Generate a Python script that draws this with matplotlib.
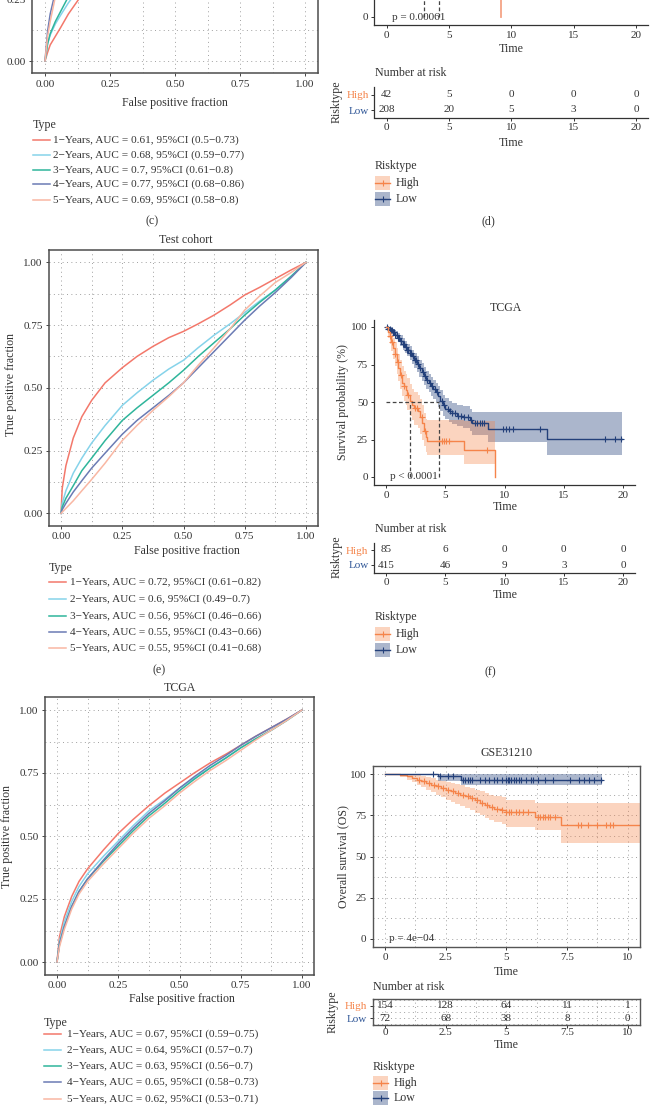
import numpy as np
import matplotlib
matplotlib.use('Agg')
import matplotlib.pyplot as plt
from matplotlib.lines import Line2D
from matplotlib.patches import Rectangle
from matplotlib.ticker import MultipleLocator, FormatStrFormatter

plt.rcParams['font.family'] = ['Liberation Serif', 'DejaVu Serif']
plt.rcParams['font.size'] = 8
plt.rcParams['axes.unicode_minus'] = True

FS_TICK = 8.0
FS_LAB = 8.6
FS_LEG = 8.1

# ---------------- data ----------------
roc_colors = ['#F3786B', '#86D3EA', '#2FB59B', '#6B7BB4', '#F9B7A3']

# (c) training cohort ROC (only bottom part visible)
c_fpr = [0, 0.01, 0.02, 0.04, 0.06, 0.09, 0.13, 0.2, 0.3, 0.45, 0.6, 0.8, 1.0]
c_tpr = [
    [0, 0.035, 0.065, 0.10, 0.135, 0.19, 0.25, 0.34, 0.45, 0.58, 0.70, 0.85, 1],
    [0, 0.07, 0.105, 0.15, 0.185, 0.235, 0.29, 0.38, 0.50, 0.64, 0.76, 0.89, 1],
    [0, 0.07, 0.11, 0.16, 0.20, 0.26, 0.32, 0.41, 0.52, 0.66, 0.78, 0.90, 1],
    [0, 0.12, 0.19, 0.28, 0.34, 0.41, 0.48, 0.57, 0.67, 0.78, 0.86, 0.94, 1],
    [0, 0.10, 0.16, 0.26, 0.30, 0.34, 0.38, 0.45, 0.54, 0.66, 0.77, 0.90, 1],
]
c_labels = ['1\u2212Years, AUC = 0.61, 95%CI (0.5\u22120.73)',
            '2\u2212Years, AUC = 0.68, 95%CI (0.59\u22120.77)',
            '3\u2212Years, AUC = 0.7, 95%CI (0.61\u22120.8)',
            '4\u2212Years, AUC = 0.77, 95%CI (0.68\u22120.86)',
            '5\u2212Years, AUC = 0.69, 95%CI (0.58\u22120.8)']

# (e) test cohort ROC
e_fpr = [0, 0.005, 0.02, 0.05, 0.085, 0.125, 0.18, 0.25, 0.31, 0.375, 0.44, 0.5,
         0.56, 0.625, 0.69, 0.75, 0.81, 0.875, 0.94, 1]
e_tpr = [
    [0, 0.10, 0.19, 0.30, 0.385, 0.45, 0.52, 0.58, 0.625, 0.665, 0.70, 0.725,
     0.755, 0.79, 0.83, 0.87, 0.90, 0.935, 0.97, 1],
    [0, 0.04, 0.09, 0.16, 0.22, 0.28, 0.35, 0.43, 0.48, 0.53, 0.575, 0.61,
     0.66, 0.71, 0.755, 0.80, 0.845, 0.89, 0.945, 1],
    [0, 0.025, 0.06, 0.11, 0.17, 0.22, 0.29, 0.37, 0.42, 0.47, 0.52, 0.57,
     0.625, 0.68, 0.735, 0.79, 0.84, 0.89, 0.945, 1],
    [0, 0.015, 0.04, 0.085, 0.13, 0.18, 0.24, 0.315, 0.37, 0.42, 0.47, 0.52,
     0.58, 0.645, 0.71, 0.77, 0.825, 0.88, 0.94, 1],
    [0, 0.005, 0.02, 0.05, 0.09, 0.135, 0.20, 0.29, 0.35, 0.41, 0.465, 0.52,
     0.59, 0.66, 0.735, 0.81, 0.865, 0.92, 0.96, 1],
]
e_labels = ['1\u2212Years, AUC = 0.72, 95%CI (0.61\u22120.82)',
            '2\u2212Years, AUC = 0.6, 95%CI (0.49\u22120.7)',
            '3\u2212Years, AUC = 0.56, 95%CI (0.46\u22120.66)',
            '4\u2212Years, AUC = 0.55, 95%CI (0.43\u22120.66)',
            '5\u2212Years, AUC = 0.55, 95%CI (0.41\u22120.68)']

# (g) TCGA ROC
g_fpr = [0, 0.01, 0.03, 0.06, 0.09, 0.125, 0.19, 0.25, 0.31, 0.375, 0.44, 0.5,
         0.56, 0.625, 0.69, 0.75, 0.81, 0.875, 0.94, 1]
g_tpr = [
    [0, 0.10, 0.18, 0.26, 0.32, 0.37, 0.445, 0.51, 0.565, 0.62, 0.67, 0.71,
     0.75, 0.79, 0.825, 0.86, 0.895, 0.93, 0.965, 1],
    [0, 0.08, 0.16, 0.24, 0.30, 0.35, 0.42, 0.48, 0.54, 0.60, 0.645, 0.69,
     0.73, 0.77, 0.81, 0.85, 0.885, 0.92, 0.96, 1],
    [0, 0.07, 0.14, 0.22, 0.28, 0.33, 0.40, 0.46, 0.52, 0.58, 0.63, 0.68,
     0.725, 0.77, 0.81, 0.85, 0.885, 0.92, 0.96, 1],
    [0, 0.07, 0.14, 0.22, 0.28, 0.33, 0.405, 0.47, 0.53, 0.59, 0.64, 0.69,
     0.735, 0.78, 0.82, 0.86, 0.895, 0.93, 0.965, 1],
    [0, 0.06, 0.13, 0.21, 0.27, 0.32, 0.39, 0.45, 0.51, 0.57, 0.62, 0.67,
     0.715, 0.76, 0.80, 0.84, 0.88, 0.92, 0.96, 1],
]
g_labels = ['1\u2212Years, AUC = 0.67, 95%CI (0.59\u22120.75)',
            '2\u2212Years, AUC = 0.64, 95%CI (0.57\u22120.7)',
            '3\u2212Years, AUC = 0.63, 95%CI (0.56\u22120.7)',
            '4\u2212Years, AUC = 0.65, 95%CI (0.58\u22120.73)',
            '5\u2212Years, AUC = 0.62, 95%CI (0.53\u22120.71)']

# (d) KM, only the bottom strip is visible
d_high_t = [0, 1, 2, 3, 4, 6, 9.2]
d_high_s = [100, 80, 62, 50, 35, 22, 0]
d_low_t = [0, 2, 4, 6, 10, 15, 20]
d_low_s = [100, 85, 60, 45, 38, 30, 30]
d_median = [3.0, 4.2]
d_risk_high = [42, 5, 0, 0, 0]
d_risk_low = [208, 20, 5, 3, 0]

# (f) TCGA KM
f_high_t = [0, 0.15, 0.3, 0.45, 0.6, 0.75, 0.9, 1.05, 1.2, 1.35, 1.5, 1.65, 1.8, 2.0,
            2.2, 2.4, 2.7, 2.9, 3.05, 3.2, 3.35, 3.5, 6.6, 9.2]
f_high_s = [100, 97, 94, 90, 86, 82, 77, 73, 68, 63, 61, 58, 55, 51,
            48, 46, 44, 40, 36, 31, 27, 24, 17.8, 0]
f_high_lo = [100, 93, 89, 84, 79, 74, 69, 64, 59, 54, 51, 48, 45, 41,
             38, 35, 33, 29, 25, 21, 17, 15, 8.5, 0]
f_high_hi = [100, 100, 99, 96, 93, 90, 86, 82, 78, 74, 71, 69, 66, 62,
             59, 57, 55, 52, 48, 43, 39, 38, 37.5, 0]
f_high_cens = [0.35, 0.55, 0.8, 1.0, 1.3, 1.55, 1.85, 2.45, 2.6, 3.0, 3.3,
               4.5, 4.7, 4.9, 5.1, 5.3, 8.5]
f_low_t = [0, 0.2, 0.4, 0.6, 0.8, 1.0, 1.2, 1.4, 1.6, 1.8, 2.0, 2.2, 2.4, 2.6, 2.8,
           3.0, 3.2, 3.4, 3.6, 3.8, 4.0, 4.2, 4.4, 4.6, 4.8, 5.0, 5.3, 5.6, 6.0,
           6.5, 7.1, 7.3, 8.6, 13.55, 19.9]
f_low_s = [100, 99, 98, 96.5, 95, 93, 91, 89, 87, 85, 83, 80.5, 78, 75.5, 72.5,
           70, 67.5, 65, 63, 61, 59, 57, 54, 51, 48, 45.5, 44, 42.5, 41,
           40, 38, 36, 32, 25.3, 25.3]
f_low_lo = [100, 98, 96, 94, 92, 90, 87.5, 85, 83, 80.5, 78, 75.5, 72.5, 70, 67,
            64, 61.5, 59, 56.5, 54, 52, 50, 47, 44, 41, 38.5, 37, 35.5, 34,
            32.5, 30.5, 28, 23.5, 14.7, 14.7]
f_low_hi = [100, 100, 99.5, 98.5, 97.5, 96, 94.5, 92.5, 91, 89, 87.5, 85, 83, 80.5, 78,
            76, 73.5, 71, 69, 67, 65, 63, 60.5, 58, 55, 52.5, 51, 49.5, 48,
            47.5, 45.5, 43.5, 43.5, 43.5, 43.5]
f_low_cens = [0.1, 0.2, 0.3, 0.4, 0.5, 0.6, 0.7, 0.8, 0.9, 1.0, 1.1, 1.25, 1.4, 1.5,
              1.65, 1.8, 1.9, 2.05, 2.15, 2.3, 2.45, 2.55, 2.7, 2.85, 3.1, 3.3, 3.5,
              3.7, 3.9, 4.1, 4.3, 4.7, 4.9, 5.2, 5.4, 5.6, 5.8, 6.1, 6.3, 6.6, 6.9,
              7.2, 7.5, 7.7, 7.9, 8.1, 8.3, 9.9, 10.1, 10.4, 10.7, 13.0, 18.5, 19.3, 19.8]
f_median = [2.05, 4.5]
f_risk_high = [85, 6, 0, 0, 0]
f_risk_low = [415, 46, 9, 3, 0]

# (h) GSE31210 KM
h_high_t = [0, 0.6, 0.9, 1.1, 1.3, 1.5, 1.7, 1.9, 2.1, 2.3, 2.5, 2.7, 2.9, 3.1, 3.3,
            3.5, 3.7, 3.9, 4.1, 4.3, 4.5, 4.8, 5.0, 6.17, 7.24, 10.6]
h_high_s = [100, 99.3, 98.5, 97.5, 96.5, 95.5, 94.5, 93.5, 92.5, 91.5, 90.5, 89.5, 88.5,
            87.5, 86.5, 85.5, 84, 82.5, 81, 80, 79, 78, 77.2, 74.1, 69.1, 69.1]
h_high_lo = [100, 98, 96.5, 95, 93.5, 92, 90.5, 89, 87.5, 86, 84.5, 83.3, 82, 80.8,
             79.5, 78.2, 76.5, 75, 73.5, 72.3, 71, 70, 68, 66, 58.4, 58.4]
h_high_hi = [100, 100, 100, 99.8, 99.3, 98.7, 98, 97.3, 96.6, 95.9, 95.2, 94.5, 93.8,
             93.1, 92.4, 91.7, 90.5, 89.5, 88.3, 87.5, 86.7, 85.8, 84.2, 82.6, 82.6, 82.6]
h_high_cens = [1.4, 1.6, 1.8, 2.0, 2.2, 2.4, 2.6, 2.8, 3.0, 3.2, 3.4, 3.6, 3.8, 4.0,
               4.2, 4.4, 4.6, 4.8, 5.0, 5.1, 5.2, 5.4, 5.5, 5.7, 5.9, 6.3, 6.4, 6.5,
               6.6, 6.7, 6.8, 7.0, 7.95, 8.07, 8.37, 8.71, 9.12, 9.26, 9.39]
h_low_t = [0, 2.2, 3.15, 8.93]
h_low_s = [100, 98.6, 96.6, 96.6]
h_low_lo = [100, 95.5, 93.2, 93.2]
h_low_hi = [100, 100, 99.8, 99.8]
h_low_cens = [1.96, 2.25, 2.6, 2.8, 3.2, 3.3, 3.4, 3.5, 3.6, 3.9, 4.1, 4.3, 4.5, 4.6,
              4.8, 5.0, 5.05, 5.1, 5.2, 5.3, 5.4, 5.5, 5.6, 5.8, 6.0, 6.1, 6.3, 6.6,
              6.9, 7.6, 8.0, 8.2, 8.4, 8.6, 8.9]
h_risk_high = [154, 128, 64, 11, 1]
h_risk_low = [72, 68, 38, 8, 0]

HIGH = '#F5844A'
HIGH_D = '#F4A486'
LOW = '#23407A'
TXT = '#333333'

# ---------------- helpers ----------------
W, H = 650, 1105
fig = plt.figure(figsize=(6.5, 11.05), dpi=100)


def px_axes(left, top, right, bottom):
    return fig.add_axes([left / W, 1 - bottom / H, (right - left) / W, (bottom - top) / H])


def ftext(x, y, s, **kw):
    kw.setdefault('color', TXT)
    kw.setdefault('va', 'center')
    fig.text(x / W, 1 - y / H, s, **kw)


def fline(x0, x1, y, **kw):
    fig.add_artist(Line2D([x0 / W, x1 / W], [1 - y / H, 1 - y / H],
                          transform=fig.transFigure, **kw))


def roc_panel(box, fpr, tprs, yticks=(0, 0.25, 0.5, 0.75, 1.0), title=None, title_xy=None):
    ax = px_axes(*box)
    for tpr, col in zip(tprs, roc_colors):
        ax.plot(fpr, tpr, color=col, lw=1.1)
    ax.set_xlim(-0.05, 1.05)
    ax.set_ylim(-0.05, 1.05)
    ax.xaxis.set_major_locator(MultipleLocator(0.25))
    ax.set_yticks(list(yticks))
    for axis in (ax.xaxis, ax.yaxis):
        axis.set_minor_locator(MultipleLocator(0.125))
        axis.set_major_formatter(FormatStrFormatter('%.2f'))
    ax.grid(which='both', ls=(0, (1, 3.5)), color='#A0A0A0', lw=0.7)
    ax.set_axisbelow(True)
    ax.tick_params(which='major', length=2.5, width=0.7, color='#444', labelsize=FS_TICK,
                   labelcolor=TXT, pad=2)
    ax.tick_params(which='minor', length=0)
    for sp in ax.spines.values():
        sp.set_color('#4D4D4D')
        sp.set_linewidth(1.1)
    if title:
        ftext(title_xy[0], title_xy[1], title, ha='center', fontsize=FS_LAB)
    return ax


def roc_legend(x_line, x_text, y_type, ys, labels):
    ftext(x_line, y_type, 'Type', ha='left', fontsize=FS_LAB)
    for y, lab, col in zip(ys, labels, roc_colors):
        fline(x_line, x_line + 17, y, color=col, lw=1.1)
        ftext(x_text, y, lab, ha='left', fontsize=FS_LEG)


def step_val(t, s, c):
    idx = np.searchsorted(t, c, side='right') - 1
    return np.asarray(s)[idx]


def km_curve(ax, t, s, lo, hi, col, cens, alpha):
    ax.fill_between(t, lo, hi, step='post', color=col, alpha=alpha, lw=0)
    ax.plot(t, s, drawstyle='steps-post', color=col, lw=1.0)
    if cens:
        ax.plot(cens, step_val(t, s, cens), ls='none', marker='+', ms=4.5,
                mew=0.8, color=col)


def km_style(ax, xlim, xticks, yticks, full_frame=False):
    ax.set_xlim(*xlim)
    ax.set_ylim(-5, 105)
    ax.set_xticks(xticks)
    ax.set_yticks(yticks)
    ax.set_xticklabels([('%g' % v) for v in xticks])
    ax.tick_params(length=2.5, width=0.7, color='#333', labelsize=FS_TICK, labelcolor=TXT, pad=2)
    if full_frame:
        for sp in ax.spines.values():
            sp.set_color('#555555')
            sp.set_linewidth(1.0)
        ax.xaxis.set_minor_locator(MultipleLocator(1.25))
        ax.yaxis.set_minor_locator(MultipleLocator(12.5))
        ax.tick_params(which='minor', length=0)
        ax.grid(which='both', ls=(0, (1, 3.5)), color='#A0A0A0', lw=0.7)
        ax.set_axisbelow(True)
    else:
        ax.spines['top'].set_visible(False)
        ax.spines['right'].set_visible(False)
        for sp in ('left', 'bottom'):
            ax.spines[sp].set_color('#333')
            ax.spines[sp].set_linewidth(0.9)


def risk_table(box, xlim, xticks, high, low, ylim, full_frame=False):
    ax = px_axes(*box)
    for xv, hv, lv in zip(xticks, high, low):
        ax.text(xv, 2, str(hv), ha='center', va='center', fontsize=FS_TICK, color=TXT)
        ax.text(xv, 1, str(lv), ha='center', va='center', fontsize=FS_TICK, color=TXT)
    ax.set_xlim(*xlim)
    ax.set_ylim(*ylim)
    ax.set_xticks(xticks)
    ax.set_xticklabels([('%g' % v) for v in xticks])
    ax.set_yticks([2, 1])
    ax.set_yticklabels(['High', 'Low'])
    ax.get_yticklabels()[0].set_color(HIGH)
    ax.get_yticklabels()[1].set_color('#2E5596')
    ax.tick_params(length=2.5, width=0.7, color='#333', labelsize=FS_TICK, pad=1.5)
    ax.tick_params(axis='x', labelcolor=TXT)
    if full_frame:
        for sp in ax.spines.values():
            sp.set_color('#555555')
            sp.set_linewidth(1.0)
        ax.xaxis.set_minor_locator(MultipleLocator(1.25))
        ax.yaxis.set_minor_locator(MultipleLocator(0.5))
        ax.tick_params(which='minor', length=0)
        ax.tick_params(axis='x', length=2, pad=0.5)
        ax.grid(which='both', ls=(0, (1, 3.5)), color='#A0A0A0', lw=0.7)
        ax.set_axisbelow(True)
    else:
        ax.spines['top'].set_visible(False)
        ax.spines['right'].set_visible(False)
        for sp in ('left', 'bottom'):
            ax.spines[sp].set_color('#333')
            ax.spines[sp].set_linewidth(0.9)
    return ax


def km_legend(x, y_title, y_high, y_low):
    ftext(x, y_title, 'Risktype', ha='left', fontsize=FS_LAB)
    for y, col, a, lab in ((y_high, HIGH, 0.35, 'High'), (y_low, LOW, 0.38, 'Low')):
        fig.add_artist(Rectangle((x / W, 1 - (y + 7) / H), 15 / W, 14 / H,
                                 transform=fig.transFigure, facecolor=col, alpha=a, lw=0))
        fline(x, x + 15, y, color=col, lw=1.0)
        fig.add_artist(Line2D([(x + 7.5) / W], [1 - y / H], transform=fig.transFigure,
                              marker='+', ms=4.5, mew=0.8, color=col))
        ftext(x + 21, y, lab, ha='left', fontsize=FS_LAB)


# ---------------- (c) ----------------
roc_panel((32, -199, 318, 73.4), c_fpr, c_tpr, yticks=(0, 0.25))
ftext(175, 103, 'False positive fraction', ha='center', fontsize=FS_LAB)
roc_legend(33, 53, 125, [140, 155, 170, 184, 200], c_labels)
ftext(152, 221, '(c)', ha='center', fontsize=FS_LAB)

# ---------------- (d) ----------------
ax = px_axes(374.2, -140.5, 648.4, 24.5)
ax.plot(d_high_t, d_high_s, drawstyle='steps-post', color=HIGH_D, lw=1.3)
ax.plot(d_low_t, d_low_s, drawstyle='steps-post', color=LOW, lw=1.0)
for m in d_median:
    ax.plot([m, m], [0, 50], ls=(0, (3, 2)), color='#444', lw=0.9)
ax.text(0.4, 0, 'p = 0.00061', ha='left', va='center', fontsize=FS_TICK, color=TXT)
km_style(ax, (-1, 21), [0, 5, 10, 15, 20], [0])
ftext(511, 49, 'Time', ha='center', fontsize=FS_LAB)
ftext(375, 73, 'Number at risk', ha='left', fontsize=FS_LAB)
risk_table((374.2, 87.5, 648.4, 117.5), (-1, 21), [0, 5, 10, 15, 20],
           d_risk_high, d_risk_low, (0.5, 2.5))
ftext(337, 102, 'Risktype', ha='center', rotation=90, fontsize=FS_LAB)
ftext(511, 143, 'Time', ha='center', fontsize=FS_LAB)
km_legend(375, 166, 183, 199)
ftext(488, 221, '(d)', ha='center', fontsize=FS_LAB)

# ---------------- (e) ----------------
roc_panel((48.75, 249.8, 318.25, 525.9), e_fpr, e_tpr, title='Test cohort', title_xy=(186, 240))
ftext(187, 551, 'False positive fraction', ha='center', fontsize=FS_LAB)
ftext(11, 385, 'True positive fraction', ha='center', rotation=90, fontsize=FS_LAB)
roc_legend(49, 70, 568, [582, 599, 616, 632, 648], e_labels)
ftext(159, 670, '(e)', ha='center', fontsize=FS_LAB)

# ---------------- (f) ----------------
ax = px_axes(374.1, 319.5, 634.9, 484.5)
km_curve(ax, f_low_t, f_low_s, f_low_lo, f_low_hi, LOW, f_low_cens, 0.38)
km_curve(ax, f_high_t, f_high_s, f_high_lo, f_high_hi, HIGH, f_high_cens, 0.35)
ax.plot([0, f_median[1]], [50, 50], ls=(0, (3, 2)), color='#444', lw=0.9)
for m in f_median:
    ax.plot([m, m], [0, 50], ls=(0, (3, 2)), color='#444', lw=0.9)
ax.text(0.3, 0.5, 'p < 0.0001', ha='left', va='center', fontsize=FS_TICK, color=TXT)
km_style(ax, (-1, 21), [0, 5, 10, 15, 20], [0, 25, 50, 75, 100])
ftext(506, 308, 'TCGA', ha='center', fontsize=FS_LAB)
ftext(343, 402, 'Survival probability (%)', ha='center', rotation=90, fontsize=FS_LAB)
ftext(505, 507, 'Time', ha='center', fontsize=FS_LAB)
ftext(375, 529, 'Number at risk', ha='left', fontsize=FS_LAB)
risk_table((374.1, 542.5, 634.9, 572.5), (-1, 21), [0, 5, 10, 15, 20],
           f_risk_high, f_risk_low, (0.5, 2.5))
ftext(337, 557, 'Risktype', ha='center', rotation=90, fontsize=FS_LAB)
ftext(505, 595, 'Time', ha='center', fontsize=FS_LAB)
km_legend(375, 617, 634, 650)
ftext(490, 672, '(f)', ha='center', fontsize=FS_LAB)

# ---------------- (g) ----------------
roc_panel((44.75, 697.4, 314.25, 974.6), g_fpr, g_tpr, title='TCGA', title_xy=(180, 688))
ftext(182, 999, 'False positive fraction', ha='center', fontsize=FS_LAB)
ftext(7, 837, 'True positive fraction', ha='center', rotation=90, fontsize=FS_LAB)
roc_legend(44, 67, 1023, [1034, 1050, 1066, 1082, 1099], g_labels)

# ---------------- (h) ----------------
ax = px_axes(372.85, 765.75, 640, 947.25)
km_curve(ax, h_high_t, h_high_s, h_high_lo, h_high_hi, HIGH, h_high_cens, 0.35)
km_curve(ax, h_low_t, h_low_s, h_low_lo, h_low_hi, LOW, h_low_cens, 0.38)
ax.text(0.15, 0.5, 'p = 4e\u221204', ha='left', va='center', fontsize=FS_TICK, color=TXT)
km_style(ax, (-0.5, 10.5), [0, 2.5, 5, 7.5, 10], [0, 25, 50, 75, 100], full_frame=True)
ftext(507, 753, 'GSE31210', ha='center', fontsize=FS_LAB)
ftext(343, 857, 'Overall survival (OS)', ha='center', rotation=90, fontsize=FS_LAB)
ftext(506, 972, 'Time', ha='center', fontsize=FS_LAB)
ftext(373, 987, 'Number at risk', ha='left', fontsize=FS_LAB)
risk_table((372.85, 999, 640, 1025), (-0.5, 10.5), [0, 2.5, 5, 7.5, 10],
           h_risk_high, h_risk_low, (0.42, 2.58), full_frame=True)
ftext(333, 1012, 'Risktype', ha='center', rotation=90, fontsize=FS_LAB)
ftext(506, 1045, 'Time', ha='center', fontsize=FS_LAB)
km_legend(373, 1067, 1083, 1098)

fig.savefig('out.png', dpi=100, facecolor='white')
